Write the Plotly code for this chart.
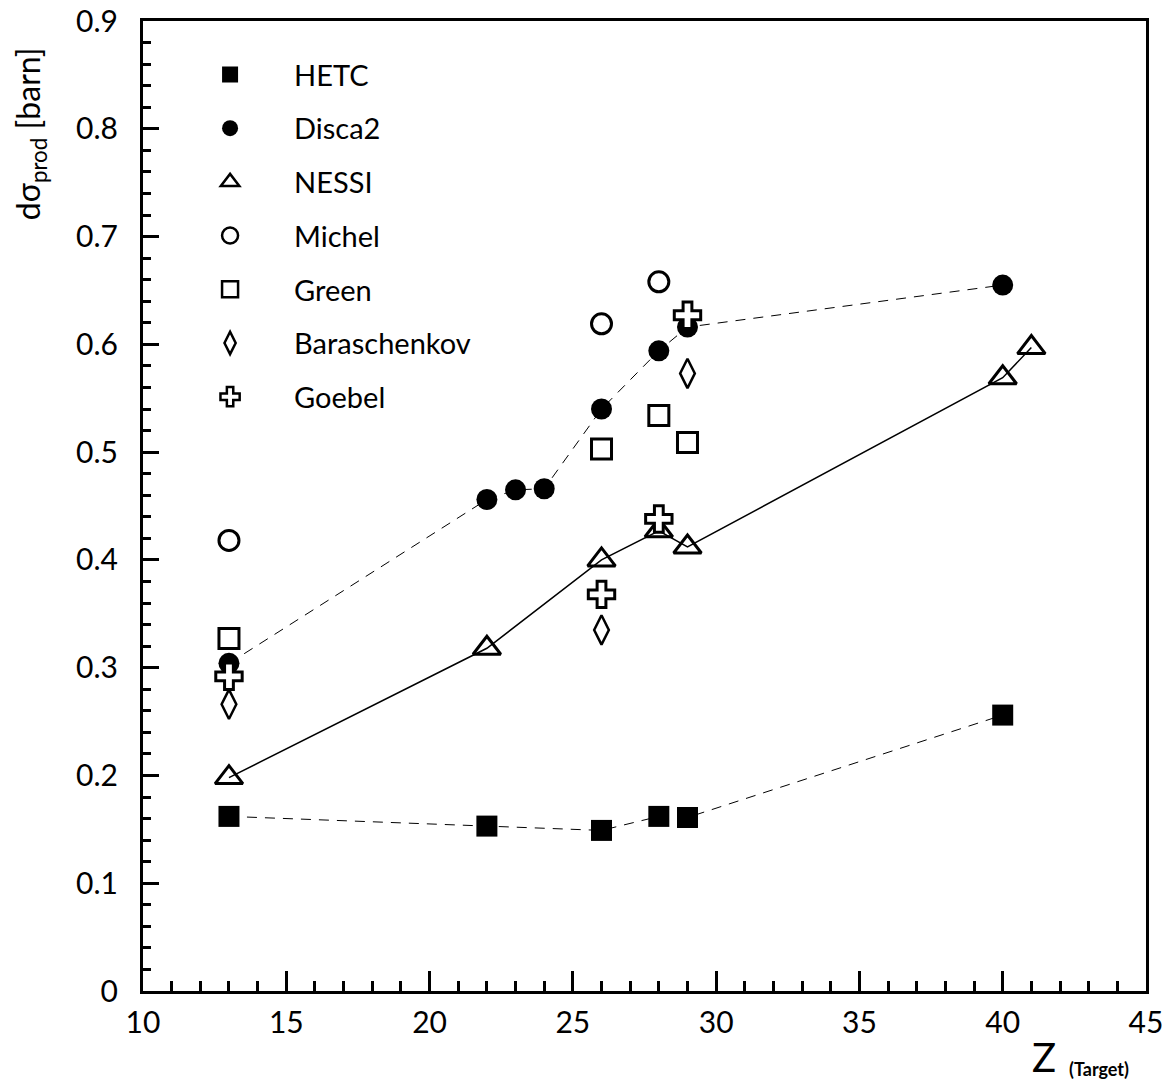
import plotly.graph_objects as go

# ---- data ----
hetc_z = [13, 22, 26, 28, 29, 40]
hetc_y = [0.162, 0.153, 0.149, 0.162, 0.161, 0.256]

disca_z = [13, 22, 23, 24, 26, 28, 29, 40]
disca_y = [0.304, 0.456, 0.465, 0.466, 0.540, 0.594, 0.616, 0.655]

nessi_z = [13, 22, 26, 28, 29, 40, 41]
nessi_y = [0.198, 0.318, 0.400, 0.427, 0.412, 0.569, 0.597]

michel_z = [13, 26, 28]
michel_y = [0.418, 0.619, 0.658]

green_z = [13, 26, 28, 29]
green_y = [0.327, 0.503, 0.534, 0.509]

bara_z = [13, 26, 29]
bara_y = [0.266, 0.335, 0.573]

goebel_z = [13, 26, 28, 29]
goebel_y = [0.292, 0.368, 0.438, 0.627]

FONT = "Lato"
BLACK = "black"

fig = go.Figure()

def mk(symbol, size, fill=BLACK, lw=0):
    return dict(symbol=symbol, size=size, color=fill, line=dict(color=BLACK, width=lw))

# data traces (no legend)
fig.add_trace(go.Scatter(x=hetc_z, y=hetc_y, mode="lines+markers",
                         line=dict(color=BLACK, width=1, dash="10px,8px"),
                         marker=mk("square", 21), showlegend=False))
fig.add_trace(go.Scatter(x=disca_z, y=disca_y, mode="lines+markers",
                         line=dict(color=BLACK, width=1, dash="10px,8px"),
                         marker=mk("circle", 21), showlegend=False))
fig.add_trace(go.Scatter(x=nessi_z, y=nessi_y, mode="lines+markers",
                         line=dict(color=BLACK, width=1.5),
                         marker=mk("triangle-up-open", 24, lw=3), showlegend=False))
fig.add_trace(go.Scatter(x=michel_z, y=michel_y, mode="markers",
                         marker=mk("circle-open", 20, lw=3), showlegend=False))
fig.add_trace(go.Scatter(x=green_z, y=green_y, mode="markers",
                         marker=mk("square-open", 20, lw=3), showlegend=False))
fig.add_trace(go.Scatter(x=bara_z, y=bara_y, mode="markers",
                         marker=mk("diamond-tall-open", 21, lw=2.5), showlegend=False))
fig.add_trace(go.Scatter(x=goebel_z, y=goebel_y, mode="markers",
                         marker=mk("cross", 22, fill="white", lw=3), showlegend=False))

# legend-only entries
legend_items = [
    ("HETC", mk("square", 16)),
    ("Disca2", mk("circle", 16)),
    ("NESSI", mk("triangle-up-open", 16, lw=2.5)),
    ("Michel", mk("circle-open", 16, lw=2.5)),
    ("Green", mk("square-open", 16, lw=2.5)),
    ("Baraschenkov", mk("diamond-tall-open", 16, lw=2.5)),
    ("Goebel", mk("cross", 16, fill="white", lw=2.5)),
]
for i, (name, m) in enumerate(legend_items):
    fig.add_trace(go.Scatter(x=[None], y=[None], mode="markers", name=name,
                             marker=m, legendgroup=f"g{i}", showlegend=True))

axis_common = dict(
    showline=True, linecolor=BLACK, linewidth=3, mirror=True,
    showgrid=False, zeroline=False, automargin=False,
    ticks="inside", tickcolor=BLACK, tickwidth=3,
    ticklabeloverflow="allow",
    tickfont=dict(family=FONT, size=30, color=BLACK),
)

fig.update_xaxes(range=[10, 45], dtick=5, tick0=10, ticklen=20,
                 minor=dict(dtick=1, ticks="inside", ticklen=10, tickwidth=3, tickcolor=BLACK),
                 ticklabelstandoff=3, **axis_common)
fig.update_yaxes(range=[0, 0.9], dtick=0.1, tick0=0, ticklen=16,
                 minor=dict(dtick=0.02, ticks="inside", ticklen=8, tickwidth=3, tickcolor=BLACK),
                 ticklabelstandoff=16, **axis_common)

fig.add_annotation(text="dσ<sub>prod</sub> [barn]", textangle=-90,
                   xref="paper", yref="paper", x=-0.113, y=0.884,
                   xanchor="center", yanchor="middle", showarrow=False,
                   font=dict(family=FONT, size=32, color=BLACK))
fig.add_annotation(text="Z", xref="paper", yref="paper", x=0.898, y=-0.068,
                   xanchor="center", yanchor="middle", showarrow=False,
                   font=dict(family=FONT, size=40, color=BLACK))
fig.add_annotation(text="<b>(Target)</b>", xref="paper", yref="paper", x=0.921, y=-0.0804,
                   xanchor="left", yanchor="middle", showarrow=False,
                   font=dict(family=FONT, size=18, color=BLACK))

fig.update_layout(
    width=1174, height=1082,
    margin=dict(l=143, r=28, t=21, b=91, autoexpand=False),
    plot_bgcolor="white", paper_bgcolor="white",
    legend=dict(x=0.023, y=0.971, xanchor="left", yanchor="top",
                bgcolor="rgba(0,0,0,0)", borderwidth=0,
                font=dict(family=FONT, size=29, color=BLACK),
                tracegroupgap=13, itemwidth=118),
)

# remove the default 8px body margin so the figure fills the window exactly
fig.write_html("out.html",
               config={"displayModeBar": False},
               post_script="document.body.style.margin='0';document.body.style.overflow='hidden';")
